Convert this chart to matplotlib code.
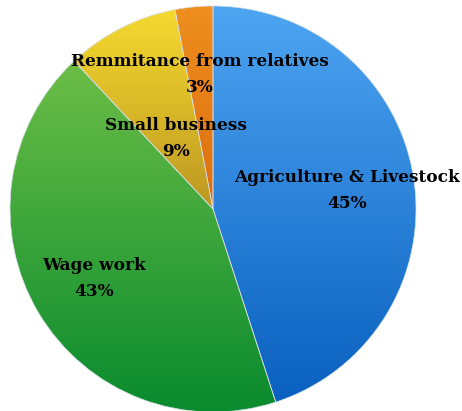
import numpy as np
import matplotlib

matplotlib.use("Agg")
import matplotlib.pyplot as plt
from matplotlib.colors import LinearSegmentedColormap

categories = ["Agriculture & Livestock", "Wage work", "Small business", "Remmitance from relatives"]
shares = [45, 43, 9, 3]

# top / bottom colours of the vertical gradient in each wedge
top_colors = ["#4ea5f2", "#6cbe46", "#f5da2f", "#ee8f1f"]
bottom_colors = ["#0960bf", "#088a2e", "#bd9722", "#de6e10"]

# label anchors (pixel space, y down)
label_pos = [(347, 177), (94, 265), (176, 125), (200, 62)]

W, H = 462, 411
cx, cy, radius = 213, 209, 203

fig = plt.figure(figsize=(W / 100, H / 100), dpi=100)
ax = fig.add_axes([0, 0, 1, 1])

wedges, _ = ax.pie(
    shares,
    startangle=90,
    counterclock=False,
    center=(cx, -cy),
    radius=radius,
    frame=True,
    wedgeprops=dict(facecolor="none", edgecolor="#d5dde6", linewidth=0.5),
)

grad = np.linspace(0, 1, 256).reshape(-1, 1)
for wedge, c_top, c_bot in zip(wedges, top_colors, bottom_colors):
    cmap = LinearSegmentedColormap.from_list("g", [c_top, c_bot])
    pts = wedge.get_patch_transform().transform(wedge.get_path().vertices)
    x0, y0 = pts.min(axis=0)
    x1, y1 = pts.max(axis=0)
    im = ax.imshow(grad, cmap=cmap, extent=(x0, x1, y0, y1), origin="upper",
                   aspect="auto", zorder=1, interpolation="bilinear")
    im.set_clip_path(wedge)
    wedge.set_zorder(2)

label_font = dict(ha="center", va="center", fontsize=12.2, fontweight="bold",
                  family="DejaVu Serif", color="black", zorder=3)
for name, share, (lx, ly) in zip(categories, shares, label_pos):
    ax.text(lx, -ly, name, **label_font)
    ax.text(lx, -ly - 26, f"{share}%", **label_font)

ax.set_xlim(0, W)
ax.set_ylim(-H, 0)
ax.set_aspect("equal", adjustable="box")
ax.axis("off")

fig.savefig("out.png", dpi=100)
